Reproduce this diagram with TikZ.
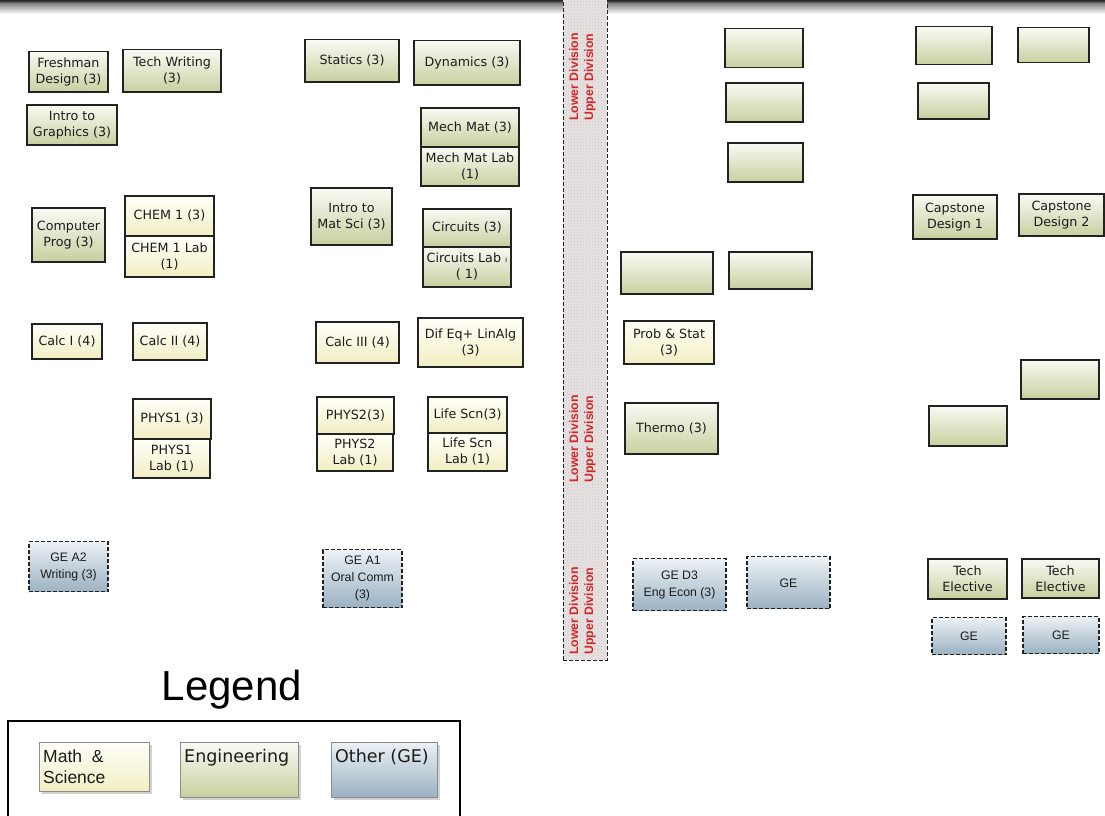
\documentclass[tikz,border=0pt]{standalone}
\usepackage{fontspec}
\newfontfamily\vfont{DejaVu Sans}
\newfontfamily\afont{Liberation Sans}
\usetikzlibrary{patterns,shadows}
\definecolor{engtop}{RGB}{249,250,244}
\definecolor{engbot}{RGB}{200,208,160}
\definecolor{mathtop}{RGB}{255,255,248}
\definecolor{mathbot}{RGB}{241,238,196}
\definecolor{getop}{RGB}{236,241,245}
\definecolor{gebot}{RGB}{155,177,194}
\definecolor{bordc}{RGB}{34,34,34}
\definecolor{txtc}{RGB}{28,28,28}
\definecolor{divred}{RGB}{212,38,38}
\definecolor{barbase}{RGB}{232,226,226}
\definecolor{legbord}{RGB}{140,140,140}
\newcommand\cbox[7]{%
  \node[#2, minimum width={(#5-#3)*1pt}, minimum height={(#6-#4)*1pt}] (#1) at ({(#3+#5)/2},{(#4+#6)/2+0.8}) {#7};}
\begin{document}
\begin{tikzpicture}[x=1pt,y=-1pt,
  course/.style={draw=bordc, line width=1.4pt, inner sep=1pt, align=center, text=txtc,
    font=\vfont\fontsize{12.7}{16}\selectfont},
  engbox/.style={course, top color=engtop, bottom color=engbot},
  mathbox/.style={course, top color=mathtop, bottom color=mathbot},
  gebox/.style={draw=bordc, line width=1.2pt, dash pattern=on 4pt off 2pt, inner sep=1pt,
    top color=getop, bottom color=gebot, align=center, text=txtc,
    font=\afont\fontsize{12.3}{17}\selectfont},
  barst/.style={draw=bordc, line width=1pt, dash pattern=on 4pt off 2pt, inner sep=0pt,
    preaction={fill=barbase}, pattern=crosshatch dots, pattern color=black!22},
  divtext/.style={rotate=90, align=center, text=divred, inner sep=0pt,
    font=\afont\bfseries\fontsize{12.3}{15}\selectfont},
  legbox/.style={draw=legbord, line width=1pt, inner sep=0pt,
    drop shadow={shadow xshift=3pt, shadow yshift=-3pt, fill=black!35, opacity=0.5}},
  legtext/.style={anchor=base west, inner sep=0pt, text=txtc}
]
\useasboundingbox (0,0) rectangle (1105,816);
\fill[white] (0,0) rectangle (1105,816);
% top gradient
\shade[top color=black!85, bottom color=black!45] (0,0) rectangle (1105,4);
\shade[top color=black!45, bottom color=white] (0,4) rectangle (1105,14);
% divider bar
\node[barst, minimum width=44pt, minimum height=660pt] (bar) at (585,330) {};
\node[divtext] (div1) at (582.5,77) {Lower Division\\Upper Division};
\node[divtext] (div2) at (582.5,439) {Lower Division\\Upper Division};
\node[divtext] (div3) at (582.5,611) {Lower Division\\Upper Division};
% left column
\cbox{fresh}{engbox}{29}{51}{108}{91}{Freshman\\Design (3)}
\cbox{techw}{engbox}{123}{49}{221}{91}{Tech Writing\\(3)}
\cbox{graph}{engbox}{27}{104}{117}{144}{Intro to\\Graphics (3)}
\cbox{comp}{engbox}{32}{207}{105}{261}{Computer\\Prog (3)}
\cbox{chem}{mathbox}{125}{195}{214}{235}{CHEM 1 (3)}
\cbox{chemlab}{mathbox}{125}{235}{214}{276}{CHEM 1 Lab\\(1)}
\cbox{calc1}{mathbox}{32}{323}{102}{358}{Calc I (4)}
\cbox{calc2}{mathbox}{133}{322}{207}{359}{Calc II (4)}
\cbox{phys1}{mathbox}{133}{398}{211}{438}{PHYS1 (3)}
\cbox{phys1lab}{mathbox}{133}{438}{210}{477}{PHYS1\\Lab (1)}
% middle column
\cbox{statics}{engbox}{305}{39}{399}{81}{Statics (3)}
\cbox{dyn}{engbox}{414}{40}{520}{84}{Dynamics (3)}
\cbox{mech}{engbox}{421}{107}{519}{146}{Mech Mat (3)}
\cbox{mechlab}{engbox}{421}{146}{519}{185}{Mech Mat Lab\\(1)}
\cbox{matsci}{engbox}{311}{187}{392}{244}{Intro to\\Mat Sci (3)}
\cbox{circ}{engbox}{423}{208}{511}{246}{Circuits (3)}
\cbox{circlab}{engbox}{423}{246}{511}{286}{Circuits Lab {\fontsize{8}{8}\selectfont ı}\\( 1)}
\cbox{calc3}{mathbox}{316}{321}{399}{362}{Calc III (4)}
\cbox{difeq}{mathbox}{418}{317}{523}{366}{Dif Eq+ LinAlg\\(3)}
\cbox{phys2}{mathbox}{317}{396}{394}{433}{PHYS2(3)}
\cbox{phys2lab}{mathbox}{317}{433}{393}{470}{PHYS2\\Lab (1)}
\cbox{life}{mathbox}{428}{396}{507}{432}{Life Scn(3)}
\cbox{lifelab}{mathbox}{428}{432}{507}{470}{Life Scn\\Lab (1)}
% upper division
\cbox{u1}{engbox}{725}{28}{803}{67}{}
\cbox{u2}{engbox}{726}{82}{803}{121}{}
\cbox{u3}{engbox}{728}{142}{803}{181}{}
\cbox{u4}{engbox}{916}{26}{992}{64}{}
\cbox{u5}{engbox}{1018}{27}{1089}{62}{}
\cbox{u6}{engbox}{918}{82}{989}{118}{}
\cbox{cap1}{engbox}{913}{194}{997}{238}{Capstone\\Design 1}
\cbox{cap2}{engbox}{1019}{193}{1104}{235}{Capstone\\Design 2}
\cbox{u7}{engbox}{621}{251}{713}{293}{}
\cbox{u8}{engbox}{729}{251}{812}{288}{}
\cbox{prob}{mathbox}{624}{320}{714}{363}{Prob \& Stat\\(3)}
\cbox{thermo}{engbox}{625}{402}{718}{453}{Thermo (3)}
\cbox{u9}{engbox}{1021}{359}{1099}{398}{}
\cbox{u10}{engbox}{929}{405}{1007}{445}{}
\cbox{te1}{engbox}{928}{558}{1007}{598}{Tech\\Elective}
\cbox{te2}{engbox}{1022}{558}{1099}{597}{Tech\\Elective}
% GE
\cbox{gea2}{gebox}{29}{541}{108}{591}{GE A2\\Writing (3)}
\cbox{gea1}{gebox}{323}{549}{402}{607}{GE A1\\Oral Comm\\(3)}
\cbox{ged3}{gebox}{633}{558}{726}{610}{GE D3\\Eng Econ (3)}
\cbox{ge1}{gebox}{747}{556}{830}{608}{GE}
\cbox{ge2}{gebox}{932}{617}{1006}{654}{GE}
\cbox{ge3}{gebox}{1023}{616}{1099}{653}{GE}
% legend
\node[anchor=base, inner sep=0pt, text=black, font=\afont\fontsize{42}{42}\selectfont] (legtitle) at (232,700) {Legend};
\draw[line width=1.2pt, black] (8,822) -- (8,721) -- (460,721) -- (460,822);
\node[legbox, top color=mathtop, bottom color=mathbot, minimum width=110pt, minimum height=49pt] (legmath) at (94,766.5) {};
\node[legbox, top color=engtop, bottom color=engbot, minimum width=118pt, minimum height=55pt] (legeng) at (239,769.5) {};
\node[legbox, top color=getop, bottom color=gebot, minimum width=106pt, minimum height=55pt] (legge) at (384,769.5) {};
\node[legtext, font=\afont\fontsize{17.5}{21}\selectfont] (lm1) at (43,762) {Math~\ \&};
\node[legtext, font=\afont\fontsize{17.5}{21}\selectfont] (lm2) at (43,783) {Science};
\node[legtext, font=\vfont\fontsize{17.5}{21}\selectfont] (le) at (184,762) {Engineering};
\node[legtext, font=\vfont\fontsize{17.5}{21}\selectfont] (lg) at (335,762) {Other (GE)};
\end{tikzpicture}
\end{document}
